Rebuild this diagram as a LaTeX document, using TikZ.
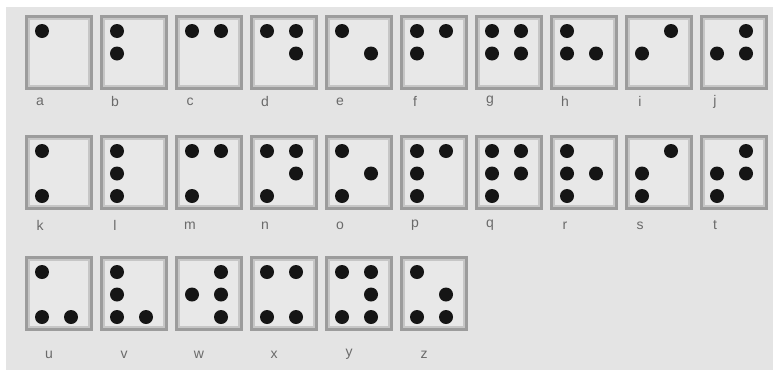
\documentclass[tikz,border=0pt]{standalone}
\usepackage{fontspec}
\setsansfont{Liberation Sans}
\definecolor{bggray}{HTML}{E4E4E4}
\definecolor{cellfill}{HTML}{E8E8E8}
\definecolor{cellgray}{HTML}{9C9C9C}
\definecolor{rimgray}{HTML}{C6C6C6}
\definecolor{labelgray}{HTML}{6A6A6A}
\definecolor{dotblack}{HTML}{151515}

\begin{document}
\begin{tikzpicture}[x=1pt, y=-1pt,
    cell/.style={rectangle, draw=cellgray, line width=2.5pt, fill=cellfill,
        minimum width=65pt, minimum height=72pt, inner sep=0pt, anchor=north west},
    rim/.style={rectangle, draw=rimgray, line width=1.5pt, minimum width=60pt,
        minimum height=67pt, inner sep=0pt},
    dot/.style={circle, fill=dotblack, minimum size=14pt, inner sep=0pt},
    letter/.style={text=labelgray, font=\sffamily\fontsize{14}{16}\selectfont, inner sep=0pt}]
    \useasboundingbox (0,0) rectangle (773,370);
    \fill[bggray] (6,7) rectangle (773,370);

    % first row: a to j
    \foreach \ch/\pins [count=\i from 0] in {a/1, b/{1,2}, c/{1,4}, d/{1,4,5}, e/{1,5},
            f/{1,2,4}, g/{1,2,4,5}, h/{1,2,5}, i/{2,4}, j/{2,4,5}} {
        \node[cell] (cell-\ch) at (25+75*\i, 15) {};
        \node[rim] (rim-\ch) at (cell-\ch.center) {};
        \node[letter] (lbl-\ch) at ([shift={(15,12)}]cell-\ch.south west) {\ch};
        \foreach \p in \pins {
            \pgfmathsetmacro\dx{17+29*int((\p-1)/3)}
            \pgfmathsetmacro\dy{16+22.5*mod(\p-1,3)}
            \node[dot] (dot-\ch-\p) at ([shift={(\dx,\dy)}]cell-\ch.north west) {};
        }
    }

    % second row: k to t
    \foreach \ch/\pins [count=\i from 0] in {k/{1,3}, l/{1,2,3}, m/{1,3,4}, n/{1,3,4,5},
            o/{1,3,5}, p/{1,2,3,4}, q/{1,2,3,4,5}, r/{1,2,3,5}, s/{2,3,4}, t/{2,3,4,5}} {
        \node[cell] (cell-\ch) at (25+75*\i, 135) {};
        \node[rim] (rim-\ch) at (cell-\ch.center) {};
        \node[letter] (lbl-\ch) at ([shift={(15,16)}]cell-\ch.south west) {\ch};
        \foreach \p in \pins {
            \pgfmathsetmacro\dx{17+29*int((\p-1)/3)}
            \pgfmathsetmacro\dy{16+22.5*mod(\p-1,3)}
            \node[dot] (dot-\ch-\p) at ([shift={(\dx,\dy)}]cell-\ch.north west) {};
        }
    }

    % third row: u to z
    \foreach \ch/\pins [count=\i from 0] in {u/{1,3,6}, v/{1,2,3,6}, w/{2,4,5,6},
            x/{1,3,4,6}, y/{1,3,4,5,6}, z/{1,3,5,6}} {
        \node[cell] (cell-\ch) at (25+75*\i, 256) {};
        \node[rim] (rim-\ch) at (cell-\ch.center) {};
        \node[letter] (lbl-\ch) at ([shift={(24,24)}]cell-\ch.south west) {\ch};
        \foreach \p in \pins {
            \pgfmathsetmacro\dx{17+29*int((\p-1)/3)}
            \pgfmathsetmacro\dy{16+22.5*mod(\p-1,3)}
            \node[dot] (dot-\ch-\p) at ([shift={(\dx,\dy)}]cell-\ch.north west) {};
        }
    }
\end{tikzpicture}
\end{document}
